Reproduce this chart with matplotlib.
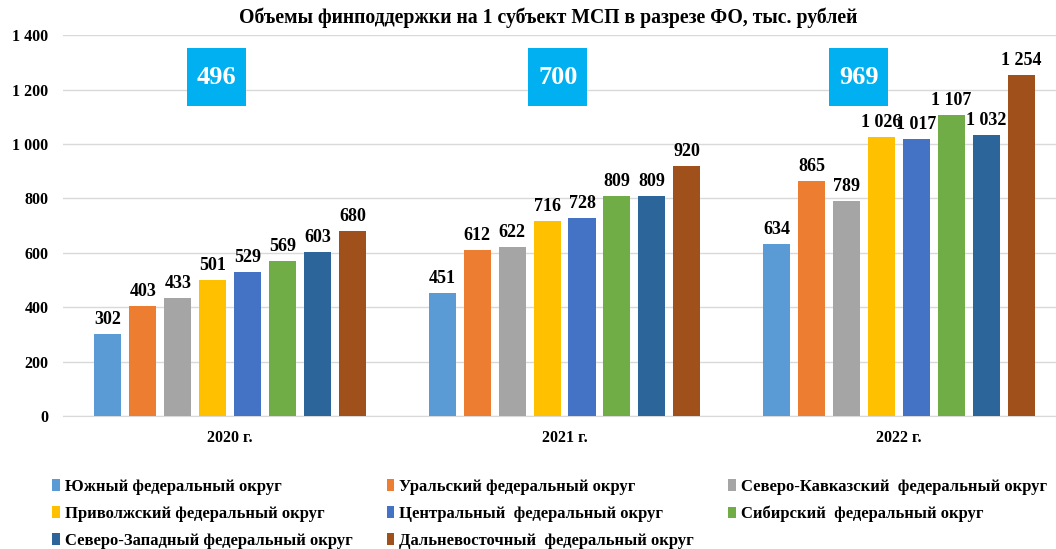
import numpy as np
import matplotlib.pyplot as plt
from matplotlib.patches import Rectangle
from matplotlib.ticker import FuncFormatter

# данные
years = ['2020 г.', '2021 г.', '2022 г.']
districts = ['Южный федеральный округ', 'Уральский федеральный округ',
             'Северо-Кавказский  федеральный округ', 'Приволжский федеральный округ',
             'Центральный  федеральный округ', 'Сибирский  федеральный округ',
             'Северо-Западный федеральный округ', 'Дальневосточный  федеральный округ']
values = [
    [302, 451, 634],
    [403, 612, 865],
    [433, 622, 789],
    [501, 716, 1026],
    [529, 728, 1017],
    [569, 809, 1107],
    [603, 809, 1032],
    [680, 920, 1254],
]
averages = [496, 700, 969]
colors = ['#5B9BD5', '#ED7D31', '#A5A5A5', '#FFC000',
          '#4472C4', '#70AD47', '#2B6599', '#A0501A']

plt.rcParams['font.family'] = ['Liberation Serif', 'DejaVu Serif']
plt.rcParams['font.weight'] = 'bold'

fmt = lambda v: f'{int(v):,}'.replace(',', ' ')

fig = plt.figure(figsize=(10.56, 5.49), dpi=100)
ax = fig.add_axes([0.0597, 0.242, 0.9403, 0.694])

x = np.arange(len(years))
step = 0.1045
width = 0.081
for i, (name, vals) in enumerate(zip(districts, values)):
    pos = x + (i - 3.5) * step
    bars = ax.bar(pos, vals, width, color=colors[i], label=name, zorder=3)
    for b, v in zip(bars, vals):
        ax.text(b.get_x() + b.get_width() / 2, v + 22, fmt(v),
                ha='center', va='bottom', fontsize=13, fontweight='bold')

# синие плашки со средним значением
box_shift = [-0.04, -0.02, -0.12]
bw, bh = 0.177, 213
for xi, a, s in zip(x, averages, box_shift):
    ax.add_patch(Rectangle((xi + s - bw / 2, 1246 - bh / 2), bw, bh,
                           fc='#00B0F0', ec='none', zorder=4))
    ax.text(xi + s, 1246, str(a), ha='center', va='center', fontsize=19,
            color='white', fontweight='bold', zorder=5)

ax.set_ylim(0, 1400)
ax.set_xlim(-0.5, 2.47)
ax.set_yticks(range(0, 1401, 200))
ax.yaxis.set_major_formatter(FuncFormatter(lambda v, p: fmt(v)))
ax.set_xticks(x)
ax.set_xticklabels(years)
ax.tick_params(axis='y', length=0, labelsize=11.5, pad=10.5)
ax.tick_params(axis='x', length=0, labelsize=11.5, pad=10)
ax.grid(axis='y', color='#D9D9D9', linewidth=1, zorder=0)
for s in ['top', 'right', 'left']:
    ax.spines[s].set_visible(False)
ax.spines['bottom'].set_color('#D9D9D9')

fig.text(548 / 1056, 1 - 18 / 549,
         'Объемы финподдержки на 1 субъект МСП в разрезе ФО, тыс. рублей',
         ha='center', va='center', fontsize=14.2, fontweight='bold')

# легенда построчно: переставляем порядок
h, l = ax.get_legend_handles_labels()
order = [0, 3, 6, 1, 4, 7, 2, 5]
fig.legend([h[k] for k in order], [l[k] for k in order],
           loc='lower left', bbox_to_anchor=(0.0354, -0.027), ncol=3, frameon=False,
           fontsize=12, handlelength=0.45, handleheight=0.7, handletextpad=0.3,
           columnspacing=2.05, labelspacing=0.66)

fig.savefig('out.png', dpi=100)
